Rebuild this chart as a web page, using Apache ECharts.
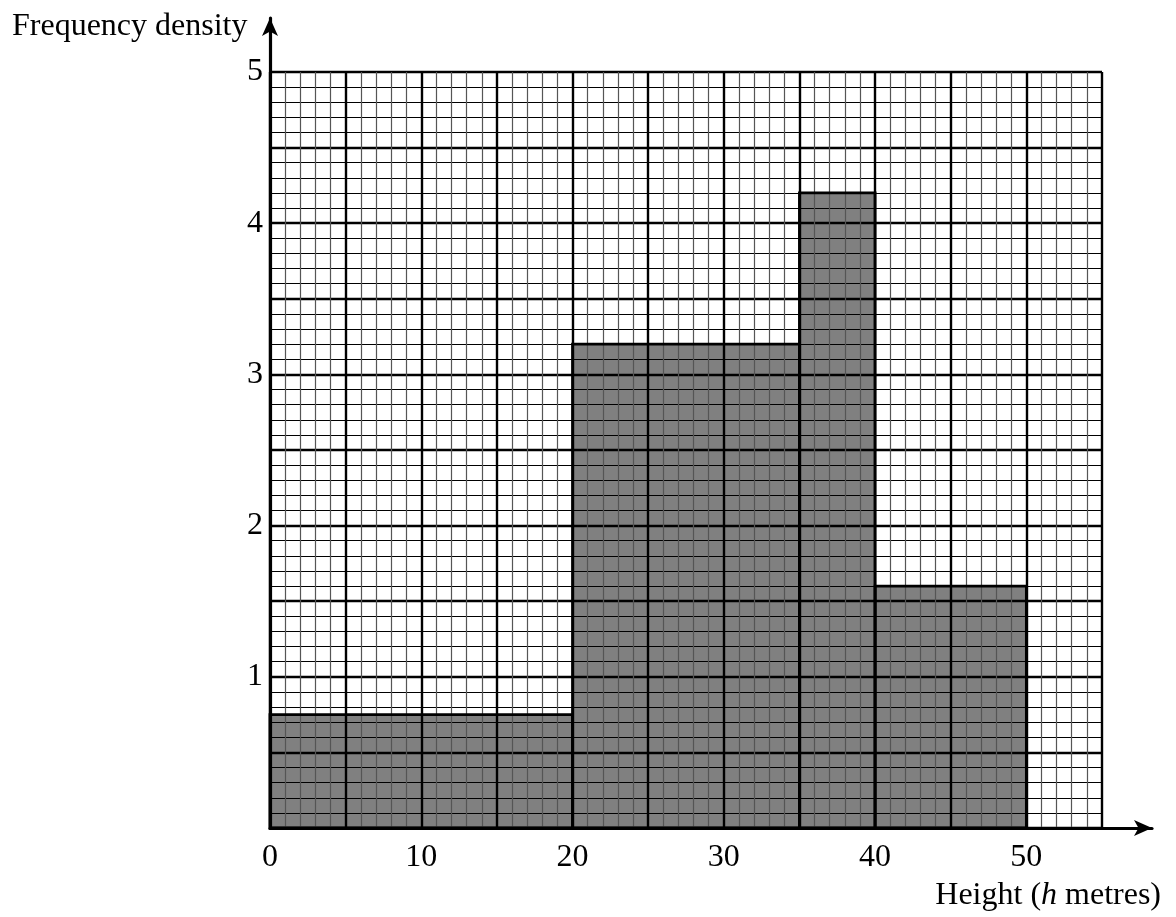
<!DOCTYPE html>
<html>
<head>
<meta charset="utf-8">
<script src="https://cdn.jsdelivr.net/npm/echarts@6/dist/echarts.min.js"></script>
<style>
html,body{margin:0;padding:0;background:#fff;}
#chart{width:1176px;height:917px;}
</style>
</head>
<body>
<div id="chart"></div>
<script>
// Histogram data
const binStart = [0, 20, 35, 40];
const binEnd = [20, 35, 40, 50];
const density = [0.75, 3.2, 4.2, 1.6];
// Tick labels
const xTickLabels = [0, 10, 20, 30, 40, 50];
const yTickLabels = [1, 2, 3, 4, 5];

const FONT = 'Liberation Serif';
const data = binStart.map((s, i) => [s, binEnd[i], density[i]]);

function rectItem(fill, stroke, lw) {
  return function (params, api) {
    const p0 = api.coord([api.value(0), api.value(2)]);
    const p1 = api.coord([api.value(1), 0]);
    return {
      type: 'rect',
      shape: { x: p0[0], y: p0[1], width: p1[0] - p0[0], height: p1[1] - p0[1] },
      style: { fill: fill, stroke: stroke, lineWidth: lw }
    };
  };
}

const chart = echarts.init(document.getElementById('chart'));
chart.setOption({
  animation: false,
  backgroundColor: '#fff',
  title: [
    { text: 'Frequency density', left: 7, top: 6,
      textStyle: { fontFamily: FONT, fontSize: 32, fontWeight: 'normal', color: '#000' } },
    { text: 'Height ({i|h} metres)', right: 10, top: 875,
      textStyle: { fontFamily: FONT, fontSize: 32, fontWeight: 'normal', color: '#000',
        rich: { i: { fontFamily: FONT, fontSize: 32, fontStyle: 'italic', color: '#000' } } } }
  ],
  grid: [
    { left: 270, right: 74, top: 72, bottom: 89 },
    { left: 270, right: 24, top: 18, bottom: 89 }
  ],
  xAxis: [
    {
      gridIndex: 0, type: 'value', min: 0, max: 55, interval: 5, z: 3,
      axisLine: { show: false }, axisTick: { show: false },
      axisLabel: {
        margin: 14, fontFamily: FONT, fontSize: 32, color: '#000',
        formatter: v => xTickLabels.includes(v) ? String(v) : ''
      },
      splitLine: { show: true, lineStyle: { color: '#000', width: 2.4 } },
      minorTick: { show: false, splitNumber: 5 },
      minorSplitLine: { show: true, lineStyle: { color: '#555', width: 1.2 } }
    },
    {
      gridIndex: 1, type: 'value', min: 0, max: 1, z: 6,
      axisLine: { show: true, symbol: ['none', 'arrow'], symbolSize: [12, 18],
        lineStyle: { color: '#000', width: 3.2 } },
      axisTick: { show: false }, axisLabel: { show: false }, splitLine: { show: false }
    }
  ],
  yAxis: [
    {
      gridIndex: 0, type: 'value', min: 0, max: 5, interval: 0.5, z: 3,
      axisLine: { show: false }, axisTick: { show: false },
      axisLabel: {
        margin: 7, fontFamily: FONT, fontSize: 32, color: '#000',
        formatter: v => yTickLabels.includes(v) ? String(v) : ''
      },
      splitLine: { show: true, lineStyle: { color: '#000', width: 2.4 } },
      minorTick: { show: false, splitNumber: 5 },
      minorSplitLine: { show: true, lineStyle: { color: '#000', width: 1.2 } }
    },
    {
      gridIndex: 1, type: 'value', min: 0, max: 1, z: 6,
      axisLine: { show: true, symbol: ['none', 'arrow'], symbolSize: [12, 18],
        lineStyle: { color: '#000', width: 3.2 } },
      axisTick: { show: false }, axisLabel: { show: false }, splitLine: { show: false }
    }
  ],
  series: [
    {
      type: 'custom', xAxisIndex: 0, yAxisIndex: 0, z: 1,
      renderItem: rectItem('#808080', null, 0),
      encode: { x: [0, 1], y: 2 },
      data: data, silent: true
    },
    {
      type: 'custom', xAxisIndex: 0, yAxisIndex: 0, z: 5,
      renderItem: rectItem('none', '#000', 2.8),
      encode: { x: [0, 1], y: 2 },
      data: data, silent: true
    }
  ]
});
</script>
</body>
</html>
